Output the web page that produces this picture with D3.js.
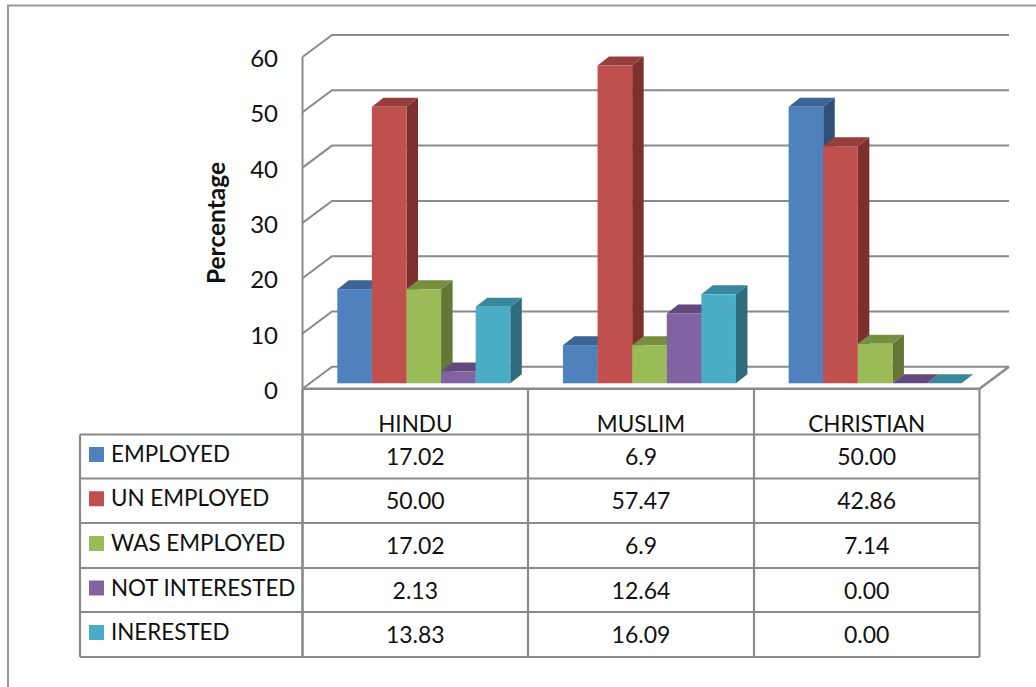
<!DOCTYPE html>
<html>
<head>
<meta charset="utf-8">
<script src="https://cdn.jsdelivr.net/npm/d3@7/dist/d3.min.js"></script>
<style>
html,body{margin:0;padding:0;background:#fff;}
svg{display:block;}
text{font-family:Lato,"Open Sans",sans-serif;fill:#111;}
</style>
</head>
<body>
<svg id="chart" width="1036" height="687"></svg>
<script>
// Employment status by religion
const categories = ["HINDU", "MUSLIM", "CHRISTIAN"];
const seriesNames = ["EMPLOYED", "UN EMPLOYED", "WAS EMPLOYED", "NOT INTERESTED", "INERESTED"];
const employed = [17.02, 6.9, 50.00];
const unEmployed = [50.00, 57.47, 42.86];
const wasEmployed = [17.02, 6.9, 7.14];
const notInterested = [2.13, 12.64, 0.00];
const inerested = [13.83, 16.09, 0.00];
const yTicks = [0, 10, 20, 30, 40, 50, 60];
const faceColors = ["#4f81bd", "#c0504d", "#9bbb59", "#8064a2", "#4bacc6"];
const topColors = ["#3c6494", "#953e3b", "#76903f", "#63497f", "#38879c"];
const sideColors = ["#2f5078", "#7b302e", "#637736", "#4f3a69", "#2f6c7e"];

const seriesValues = [employed, unEmployed, wasEmployed, notInterested, inerested];
const gridColor = "#8a8a8a";
const svg = d3.select("#chart");

// Page frame
svg.append("path").attr("d", "M8,687V5.5H1036").attr("fill", "none")
  .attr("stroke", "#9a9a9a").attr("stroke-width", 2);

// Scales for the front plane; the back wall and bars are shifted along the depth vector
const y = d3.scaleLinear().domain([0, 60]).range([388.8, 57]);
const x = d3.scaleBand().domain(categories).range([302.5, 979.5]);
const xSeries = d3.scaleBand().domain(seriesNames).range([34.8, 207.8]);
const wall = {dx: 29.5, dy: -22};
const bar = {dx: 11.5, dy: -9, lift: -5.5};

// Walls and gridlines
const grid = svg.append("g").attr("fill", "none").attr("stroke", gridColor).attr("stroke-width", 2);
grid.selectAll("path.tick").data(yTicks).join("path").attr("class", "tick")
  .attr("d", t => `M302.5,${y(t)}L${302.5 + wall.dx},${y(t) + wall.dy}H${979.5 + wall.dx}`);
grid.append("path").attr("d", `M302.5,${y(60)}V${y(0)}`);
grid.append("path").attr("d", `M302.5,${y(0)}H979.5L${979.5 + wall.dx},${y(0) + wall.dy}`)
  .attr("stroke-width", 2.5);

// Bars, painted left to right so each front face hides its neighbour's side
const bars = svg.append("g");
categories.forEach((cat, c) => {
  seriesNames.forEach((name, s) => {
    const v = seriesValues[s][c];
    const x0 = x(cat) + xSeries(name), x1 = x0 + xSeries.bandwidth();
    const base = y(0) + bar.lift, top = y(v) + bar.lift;
    const g = bars.append("g");
    g.append("path").attr("fill", sideColors[s])
      .attr("d", `M${x1},${top}L${x1 + bar.dx},${top + bar.dy}V${base + bar.dy}L${x1},${base}Z`);
    g.append("path").attr("fill", topColors[s])
      .attr("d", `M${x0},${top}L${x0 + bar.dx},${top + bar.dy}H${x1 + bar.dx}L${x1},${top}Z`);
    g.append("rect").attr("x", x0).attr("y", top).attr("width", x1 - x0).attr("height", base - top)
      .attr("fill", faceColors[s]);
  });
});

// Value axis labels
svg.append("g").selectAll("text").data(yTicks).join("text")
  .attr("x", 278).attr("y", t => y(t) + 10).attr("text-anchor", "end")
  .attr("font-size", 24).text(t => t);
svg.append("text").attr("transform", "translate(225,223) rotate(-90)")
  .attr("text-anchor", "middle").attr("font-size", 24.5).attr("font-weight", 700).text("Percentage");

// Data table below the plot
const rowTops = [434.5, 478.5, 523, 568, 612, 657];
const colLines = [302.5, 528, 754, 979.5];
const table = svg.append("g").attr("stroke", gridColor).attr("fill", "none");
table.selectAll("line.row").data(rowTops).join("line").attr("class", "row")
  .attr("x1", 80).attr("x2", 979.5).attr("y1", d => d).attr("y2", d => d).attr("stroke-width", 2.2);
table.append("line").attr("x1", 80).attr("x2", 80).attr("y1", 434.5).attr("y2", 657).attr("stroke-width", 2.2);
table.selectAll("line.col").data(colLines).join("line").attr("class", "col")
  .attr("x1", d => d).attr("x2", d => d).attr("y1", 389).attr("y2", 657)
  .attr("stroke-width", (d, i) => i === 0 ? 2.6 : 2.2);

// The MUSLIM employment figures are reported to one decimal place
const cellText = v => v === 6.9 ? "6.9" : v.toFixed(2);
const midX = c => x(c) + x.bandwidth() / 2;

svg.append("g").selectAll("text").data(categories).join("text")
  .attr("x", midX).attr("y", 432).attr("text-anchor", "middle").attr("font-size", 22.5).text(d => d);

seriesNames.forEach((name, s) => {
  const mid = (rowTops[s] + rowTops[s + 1]) / 2;
  svg.append("rect").attr("x", 89).attr("y", mid - 9.5).attr("width", 15).attr("height", 15)
    .attr("fill", faceColors[s]);
  svg.append("text").attr("x", 111).attr("y", mid + 5.5).attr("font-size", 22.4).text(name);
  svg.append("g").selectAll("text").data(categories).join("text")
    .attr("x", midX).attr("y", mid + 8.5).attr("text-anchor", "middle").attr("font-size", 23)
    .text((c, i) => cellText(seriesValues[s][i]));
});
</script>
</body>
</html>
